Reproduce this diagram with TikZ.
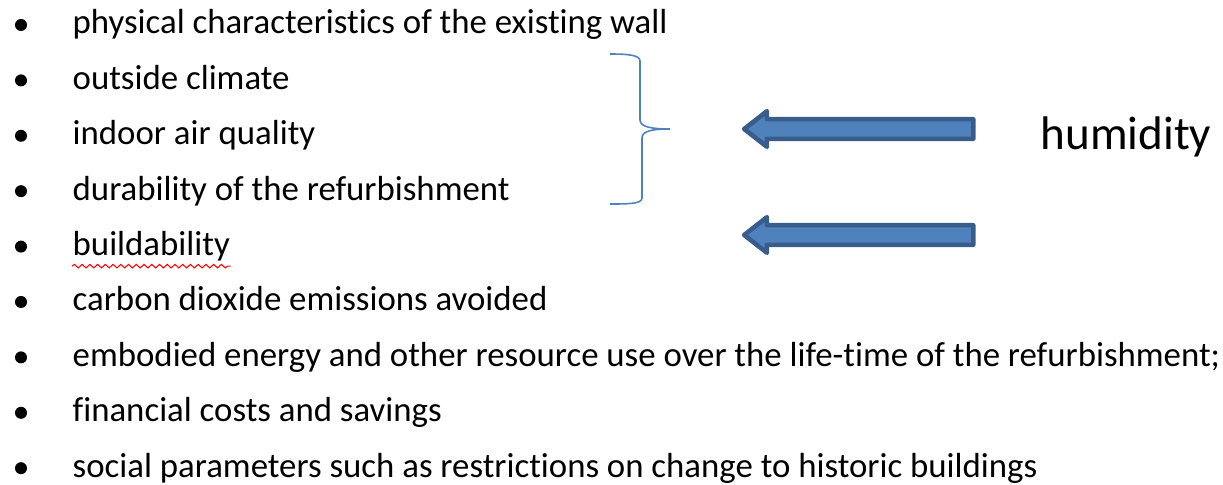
\documentclass[tikz,border=0pt]{standalone}
\usepackage{fontspec}
\setmainfont{Carlito}[Ligatures=NoCommon]
\usetikzlibrary{shapes.arrows,decorations.pathmorphing}
\definecolor{arrowfill}{HTML}{4F81BD}
\definecolor{arrowline}{HTML}{385D8A}
\tikzset{
  itemtext/.style={anchor=base west, inner sep=0pt, font=\fontsize{9.9}{12}\selectfont},
  dot/.style={circle, fill=black, inner sep=0pt, minimum size=0.12cm},
  leftarrow/.style={single arrow, shape border rotate=180, draw=arrowline, fill=arrowfill,
    line width=1.3pt, line join=round, text height=0pt, text depth=0pt, inner xsep=0pt,
    inner ysep=0.075cm, minimum height=2.29cm, single arrow head extend=0.08cm,
    single arrow tip angle=76}
}
\begin{document}
\begin{tikzpicture}[x=0.01cm, y=-0.01cm]
            \useasboundingbox (0,0) rectangle (1223,485);
            \foreach \n/\t in {1/{physical characteristics of the existing wall},
                               2/{outside climate},
                               3/{indoor air quality},
                               4/{durability of the refurbishment},
                               5/{buildability},
                               6/{carbon dioxide emissions avoided},
                               7/{embodied energy and other resource use over the life-time of the refurbishment;},
                               8/{financial costs and savings},
                               9/{social parameters such as restrictions on change to historic buildings}}
            {
                \pgfmathsetmacro{\y}{25+55.4*(\n-1)}
                \node[dot] (bullet\n) at (21,\y){};
                \node[itemtext] (item\n) at (72,\y+9){\t};
            }
            % spelling mark
            \draw[red, line width=0.3pt, decorate, decoration={snake, amplitude=0.5pt, segment length=2.2pt}]
                ([yshift=-3pt]item5.base west) -- ([yshift=-3pt]item5.base east);
            % brace
            \draw[arrowfill, line width=0.45pt] (610,54) .. controls (628,54) and (640,55) .. (640,61) -- (640,120)
                .. controls (640,127) and (652,129) .. (670,129)
                .. controls (652,129) and (642,131) .. (642,138) -- (642,198)
                .. controls (642,204) and (628,204) .. (610,204);
            \node[leftarrow] (arrA) at (865,129){};
            \node[leftarrow] (arrB) at (865,235){};
            \node[anchor=base west, inner sep=0pt, font=\fontsize{13.4}{16}\selectfont] (hum) at (1040,150){humidity};
        \end{tikzpicture}
\end{document}
